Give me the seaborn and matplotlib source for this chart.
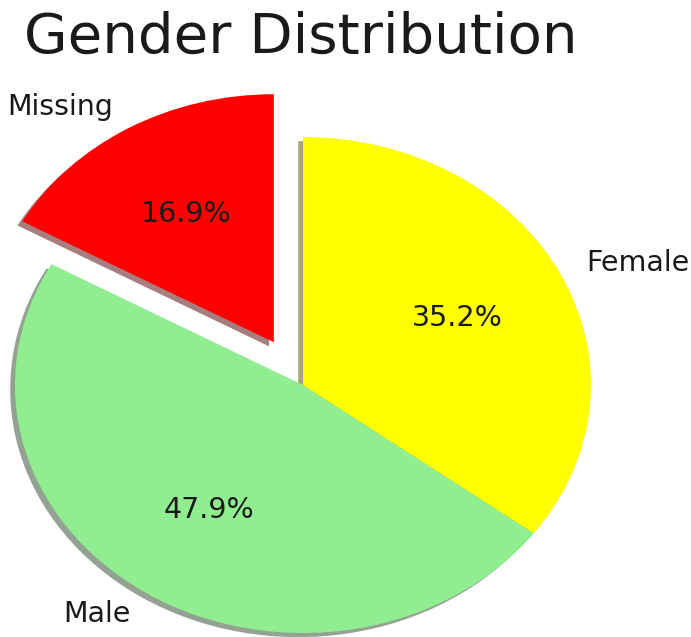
import matplotlib
matplotlib.use("Agg")
import matplotlib.pyplot as plt
import seaborn as sns

categories = ["Missing", "Male", "Female"]
percentages = [16.9, 47.9, 35.2]
colors = ["red", "lightgreen", "yellow"]
explode = [0.2, 0, 0]
title = "Gender Distribution"

sns.set_style("white")
plt.rcParams["font.family"] = ["DejaVu Sans"]

palette = sns.color_palette(colors)

fig = plt.figure(figsize=(6.91, 6.37), dpi=100)
ax = fig.add_axes([0, 0, 1, 1])
ax.pie(percentages, labels=categories, colors=palette, explode=explode,
       autopct="%1.1f%%", shadow={"ox": -0.012, "oy": -0.012},
       startangle=90, wedgeprops={"linewidth": 0},
       textprops={"fontsize": 20.5, "color": "#1a1a1a"})
ax.set_aspect("auto")
ax.set_xlim(-303 / 288, 388 / 288)
ax.set_ylim(-(637 - 385) / 248, 385 / 248)
ax.axis("off")

fig.text(301 / 691, 1 - 53 / 637, title, fontsize=40.5, ha="center",
         va="baseline", color="#1a1a1a")

fig.savefig("out.png", dpi=100)
